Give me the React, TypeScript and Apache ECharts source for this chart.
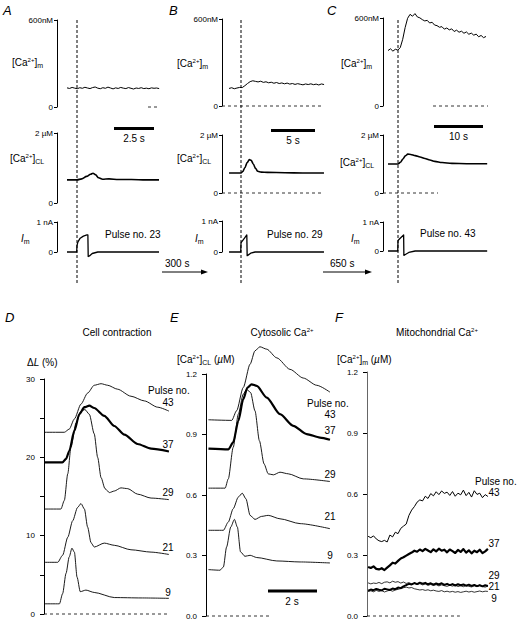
import { useEffect, useRef } from "react";
import * as echarts from "echarts";

const FONT = "'Liberation Sans', Arial, Helvetica, sans-serif";

// ---------------- Top row data (A: pulse 23, B: pulse 29, C: pulse 43) ----------------
const pulseNumbersTop = ["23", "29", "43"];
const mitoTickLabel = "600nM";
const cytoTickLabel = "2 µM";
const currentTickLabel = "1 nA";
const scaleBarSecondsTop = [2.5, 5, 10];
const scaleBarLabelsTop = ["2.5 s", "5 s", "10 s"];
const intervalLabels = ["300 s", "650 s"];

// A — mitochondrial Ca (nM), sampled every 0.16 s from -0.625 s
const aMitoStart = -0.625;
const aMitoStep = 0.16;
const aMito = [132, 128, 135, 130, 126, 133, 129, 136, 131, 127, 134, 138, 130, 126, 133, 129, 137, 131, 125, 132, 128, 135, 130, 127, 134, 129, 124, 131, 128, 133, 127, 130, 126, 132, 129, 131, 127];
// A — cytosolic Ca (µM)
const aCytoT = [-0.625, 0, 0.3, 0.6, 0.85, 1.0, 1.15, 1.35, 1.6, 2.0, 2.6, 3.4, 4.3, 5.125];
const aCytoV = [0.66, 0.66, 0.69, 0.76, 0.82, 0.85, 0.81, 0.72, 0.68, 0.69, 0.67, 0.67, 0.66, 0.66];
// A — membrane current (nA)
const aCurT = [-0.625, -0.02, 0, 0.06, 0.2, 0.4, 0.62, 0.68, 0.7, 0.78, 0.95, 1.3, 5.125];
const aCurV = [0, 0, 0.22, 0.34, 0.46, 0.53, 0.57, 0.57, -0.15, -0.13, -0.05, 0, 0];

// B
const bMitoStart = -1.36;
const bMitoStep = 0.3;
const bMito = [121, 126, 119, 124, 128, 127, 140, 155, 168, 174, 170, 166, 171, 163, 167, 160, 164, 157, 162, 155, 159, 153, 158, 151, 155, 149, 154, 150, 146, 152, 148, 153, 147, 151, 145, 152, 148];
const bCytoT = [-1.36, 0, 0.2, 0.45, 0.7, 0.95, 1.15, 1.4, 1.65, 1.9, 2.3, 3.0, 5.0, 7.0, 9.43];
const bCytoV = [0.69, 0.69, 0.74, 0.88, 1.05, 1.15, 1.13, 1.0, 0.85, 0.75, 0.72, 0.71, 0.7, 0.69, 0.69];
const bCurT = [-1.36, -0.03, 0, 0.05, 0.4, 0.66, 0.7, 0.8, 1.1, 1.6, 9.43];
const bCurV = [0, 0, 0.28, 0.32, 0.45, 0.55, -0.12, -0.1, -0.04, 0, 0];

// C
const cMitoStart = -2.04;
const cMitoStep = 0.5;
const cMito = [378, 390, 374, 387, 381, 398, 455, 535, 598, 625, 612, 630, 607, 601, 589, 580, 584, 566, 571, 552, 548, 537, 541, 524, 532, 519, 526, 508, 517, 503, 510, 496, 505, 489, 497, 483, 490, 472, 481, 466, 474];
const cCytoT = [-2.04, 0, 0.5, 1.0, 1.5, 2.0, 2.6, 3.5, 4.5, 5.5, 6.5, 7.5, 9, 11, 14, 18.2];
const cCytoV = [1.0, 1.0, 1.06, 1.17, 1.28, 1.34, 1.33, 1.29, 1.24, 1.19, 1.14, 1.09, 1.05, 1.02, 1.01, 1.01];
const cCurT = [-2.04, -0.05, 0, 0.1, 0.5, 1.15, 1.2, 1.5, 2.2, 3.5, 18.2];
const cCurV = [0, 0, 0.35, 0.38, 0.45, 0.55, -0.15, -0.12, -0.05, 0, 0];

// ---------------- Bottom row data ----------------
const pulseLabels = ["43", "37", "29", "21", "9"];
const panelTitles = ["Cell contraction", "Cytosolic Ca{sup|2+}", "Mitochondrial Ca{sup|2+}"];
const panelYTitles = ["Δ{i|L} (%)", "[Ca{sup|2+}]{sub|CL} ({i|µ}M)", "[Ca{sup|2+}]{sub|m} ({i|µ}M)"];

// D — cell shortening ΔL (%) vs time (s)
const d43T = [0, 0.83, 1.03, 1.24, 1.51, 1.78, 2.05, 2.33, 2.6, 3.0, 3.55, 4.1, 4.64, 5.1];
const d43V = [23.2, 23.2, 23.6, 24.9, 26.8, 28.2, 29.2, 29.4, 29.2, 28.7, 27.8, 27.2, 26.4, 25.9];
const d37T = [0, 0.75, 0.9, 1.03, 1.24, 1.44, 1.65, 1.85, 2.05, 2.46, 2.87, 3.28, 3.82, 4.37, 5.1];
const d37V = [19.35, 19.35, 19.8, 20.8, 23.4, 25.5, 26.4, 26.6, 26.3, 25.3, 24.0, 22.9, 21.7, 21.1, 20.75];
const d29T = [0, 0.69, 0.83, 0.97, 1.1, 1.31, 1.51, 1.67, 1.85, 2.05, 2.19, 2.33, 2.49, 2.67, 2.87, 3.14, 3.42, 3.82, 4.37, 5.1];
const d29V = [13.4, 13.4, 14.5, 17.9, 21.3, 24.4, 25.9, 26.1, 25.5, 23.0, 20.0, 17.4, 16.0, 15.5, 15.7, 16.1, 16.0, 15.3, 14.8, 14.6];
const d21T = [0, 0.56, 0.76, 0.97, 1.17, 1.37, 1.51, 1.65, 1.78, 1.92, 2.05, 2.46, 2.87, 3.55, 4.37, 5.1];
const d21V = [6.6, 6.6, 7.5, 9.8, 11.9, 13.6, 14.1, 13.4, 11.1, 9.1, 8.55, 9.05, 8.77, 8.2, 7.9, 7.6];
const d9T = [0, 0.63, 0.76, 0.9, 1.03, 1.14, 1.24, 1.35, 1.48, 1.71, 2.05, 2.87, 3.96, 5.1];
const d9V = [1.3, 1.3, 2.6, 5.2, 7.3, 8.4, 7.9, 4.7, 2.85, 3.05, 2.75, 2.1, 2.05, 2.0];

// E — cytosolic Ca (µM) vs time (s)
const e43T = [0.1, 1.05, 1.25, 1.52, 1.8, 2.0, 2.2, 2.48, 2.89, 3.43, 3.97, 4.52, 5.06];
const e43V = [0.973, 0.97, 1.018, 1.133, 1.249, 1.315, 1.335, 1.323, 1.28, 1.223, 1.18, 1.144, 1.11];
const e37T = [0.1, 0.91, 1.11, 1.32, 1.52, 1.69, 1.86, 2.07, 2.48, 3.02, 3.56, 4.11, 4.65, 5.06];
const e37V = [0.83, 0.826, 0.861, 0.968, 1.075, 1.132, 1.149, 1.141, 1.083, 1.001, 0.943, 0.902, 0.885, 0.874];
const e29T = [0.1, 0.78, 0.91, 1.11, 1.32, 1.52, 1.66, 1.82, 2.0, 2.18, 2.37, 2.54, 2.75, 3.02, 3.36, 3.97, 5.06];
const e29V = [0.634, 0.634, 0.68, 0.836, 1.001, 1.1, 1.124, 1.108, 1.017, 0.869, 0.754, 0.705, 0.7, 0.713, 0.705, 0.68, 0.667];
const e21T = [0.1, 0.71, 0.91, 1.11, 1.32, 1.48, 1.63, 1.8, 2.0, 2.27, 2.54, 3.02, 3.84, 5.06];
const e21V = [0.425, 0.425, 0.466, 0.532, 0.59, 0.609, 0.581, 0.499, 0.479, 0.494, 0.499, 0.482, 0.458, 0.433];
const e9T = [0.1, 0.57, 0.71, 0.84, 1.01, 1.16, 1.28, 1.41, 1.59, 1.8, 2.07, 2.89, 3.84, 5.06];
const e9V = [0.23, 0.227, 0.243, 0.342, 0.441, 0.479, 0.441, 0.318, 0.296, 0.301, 0.29, 0.273, 0.268, 0.263];

// F — mitochondrial Ca (µM), consecutive samples
const f43 = [0.392, 0.385, 0.394, 0.379, 0.37, 0.366, 0.372, 0.364, 0.398, 0.389, 0.412, 0.405, 0.431, 0.442, 0.452, 0.495, 0.521, 0.538, 0.56, 0.571, 0.566, 0.589, 0.578, 0.602, 0.591, 0.611, 0.597, 0.615, 0.603, 0.609, 0.593, 0.612, 0.589, 0.604, 0.596, 0.619, 0.592, 0.608, 0.585, 0.616, 0.598, 0.604, 0.582, 0.597, 0.588];
const f37 = [0.241, 0.236, 0.244, 0.232, 0.229, 0.235, 0.226, 0.238, 0.249, 0.262, 0.258, 0.271, 0.283, 0.289, 0.297, 0.305, 0.312, 0.321, 0.316, 0.327, 0.319, 0.33, 0.322, 0.314, 0.328, 0.318, 0.331, 0.321, 0.326, 0.313, 0.327, 0.319, 0.31, 0.325, 0.315, 0.329, 0.312, 0.323, 0.308, 0.321, 0.314, 0.326, 0.309, 0.318, 0.33];
const f29 = [0.163, 0.158, 0.162, 0.16, 0.165, 0.159, 0.166, 0.168, 0.163, 0.171, 0.166, 0.169, 0.162, 0.167, 0.16, 0.164, 0.158, 0.161, 0.155, 0.159, 0.153, 0.157, 0.151, 0.155, 0.15, 0.154, 0.148, 0.153, 0.149, 0.146, 0.151, 0.147, 0.152, 0.145, 0.149, 0.144, 0.15, 0.146, 0.143, 0.148, 0.144, 0.149, 0.145, 0.142, 0.147];
const f21 = [0.125, 0.13, 0.127, 0.133, 0.129, 0.126, 0.134, 0.131, 0.128, 0.135, 0.132, 0.14, 0.137, 0.146, 0.152, 0.158, 0.155, 0.162, 0.157, 0.164, 0.159, 0.163, 0.156, 0.161, 0.154, 0.16, 0.155, 0.161, 0.153, 0.158, 0.152, 0.157, 0.15, 0.156, 0.151, 0.155, 0.149, 0.154, 0.148, 0.153, 0.147, 0.152, 0.146, 0.151, 0.148];
const f9 = [0.12, 0.124, 0.119, 0.126, 0.121, 0.125, 0.118, 0.123, 0.127, 0.122, 0.128, 0.131, 0.135, 0.139, 0.142, 0.138, 0.14, 0.134, 0.131, 0.128, 0.13, 0.126, 0.129, 0.124, 0.127, 0.123, 0.121, 0.125, 0.119, 0.122, 0.118, 0.121, 0.117, 0.12, 0.116, 0.119, 0.122, 0.118, 0.121, 0.117, 0.12, 0.123, 0.119, 0.122, 0.121];

// ---------------- helpers ----------------
const pairs = (t: number[], v: number[]) => t.map((x, i) => [x, v[i]]);
const sampled = (start: number, step: number, v: number[]) => v.map((y, i) => [start + i * step, y]);
const indexed = (v: number[]) => v.map((y, i) => [i, y]);

const makeRich = () => ({
  sup: { fontSize: 6, verticalAlign: "top", padding: [2, 0, 0, 0], fontFamily: FONT, fill: "#000" },
  sub: { fontSize: 7, verticalAlign: "bottom", fontFamily: FONT, fill: "#000" },
  i: { fontSize: 10, fontStyle: "italic", fontFamily: FONT, fill: "#000", lineHeight: 14 },
});

function txt(x: number, y: number, text: string, o: any = {}) {
  return {
    type: "text",
    x,
    y,
    silent: true,
    z: 20,
    style: {
      text,
      fill: "#000",
      fontSize: o.size ?? 10,
      fontFamily: FONT,
      fontStyle: o.italic ? "italic" : "normal",
      align: o.align ?? "left",
      verticalAlign: "middle",
      lineHeight: 14,
      rich: makeRich(),
    },
  };
}

function line(g: number, data: number[][], width: number, o: any = {}) {
  return {
    type: "line",
    xAxisIndex: g,
    yAxisIndex: g,
    data,
    symbol: "none",
    showSymbol: false,
    clip: false,
    silent: true,
    animation: false,
    smooth: o.smooth ?? false,
    smoothMonotone: o.smooth ? "x" : undefined,
    lineStyle: { color: o.color ?? "#000", width, type: o.dash ?? "solid", cap: "butt", join: "round" },
    z: o.z ?? 3,
  };
}

function yCfg(max: number, interval: number, formatter: (v: number) => string, o: any = {}) {
  return {
    type: "value",
    min: 0,
    max,
    interval,
    axisLine: { show: true, onZero: false, lineStyle: { color: o.axisColor ?? "#000", width: o.axisWidth ?? 1 } },
    axisTick: { show: true, inside: false, length: o.tick ?? 3, lineStyle: { color: "#000", width: 1 } },
    splitLine: { show: false },
    axisLabel: {
      show: true,
      color: "#000",
      fontSize: o.size ?? 7.5,
      fontFamily: FONT,
      margin: o.margin ?? 4,
      formatter,
      showMinLabel: true,
      showMaxLabel: true,
    },
  };
}

// layout (pixels) of the three top panels
const topPanels = [
  { axisX: 57, stimX: 77, pxPerS: 16, rightX: 162, rows: [[20, 107], [133, 203], [222, 252]], zeroDash: [[148, 159], null, null], bar: [114, 127], pulse: [105, 234] },
  { axisX: 222, stimX: 241, pxPerS: 8.8, rightX: 326, rows: [[19, 106], [135, 193], [221, 252]], zeroDash: [[222, 324], [222, 324], null], bar: [271, 129], pulse: [267, 234] },
  { axisX: 383, stimX: 398, pxPerS: 4.9, rightX: 490, rows: [[18, 106], [135, 193], [222, 251]], zeroDash: [[433, 488], [383, 438], null], bar: [434, 125], pulse: [420, 233] },
];
const topTraces = [
  { mito: sampled(aMitoStart, aMitoStep, aMito), cyto: pairs(aCytoT, aCytoV), cur: pairs(aCurT, aCurV) },
  { mito: sampled(bMitoStart, bMitoStep, bMito), cyto: pairs(bCytoT, bCytoV), cur: pairs(bCurT, bCurV) },
  { mito: sampled(cMitoStart, cMitoStep, cMito), cyto: pairs(cCytoT, cCytoV), cur: pairs(cCurT, cCurV) },
];

function buildOption() {
  const grid: any[] = [];
  const xAxis: any[] = [];
  const yAxis: any[] = [];
  const series: any[] = [];
  const el: any[] = [];

  const addGrid = (left: number, top: number, bottom: number, width: number, xmin: number, xmax: number, y: any) => {
    const i = grid.length;
    grid.push({ left, top, width, height: bottom - top, outerBoundsMode: "none", containLabel: false });
    xAxis.push({ gridIndex: i, type: "value", min: xmin, max: xmax, show: false });
    yAxis.push({ gridIndex: i, ...y });
    return i;
  };

  // ---------- top panels ----------
  topPanels.forEach((p, pi) => {
    const toT = (px: number) => (px - p.stimX) / p.pxPerS;
    const xmin = toT(p.axisX);
    const xmax = toT(p.rightX);
    const tr = topTraces[pi];
    const rowData = [tr.mito, tr.cyto, tr.cur];
    const rowMax = [600, 2, 1];
    const rowLab = [mitoTickLabel, cytoTickLabel, currentTickLabel];
    const rowW = [1, 1.6, 1.3];
    p.rows.forEach((r, ri) => {
      const g = addGrid(p.axisX, r[0], r[1], p.rightX - p.axisX, xmin, xmax,
        yCfg(rowMax[ri], rowMax[ri], (v: number) => (v === 0 ? "0" : rowLab[ri]), { size: 8, margin: 4 }));
      series.push(line(g, rowData[ri], rowW[ri], { smooth: ri === 1 ? 0.3 : false }));
      const zd = p.zeroDash[ri];
      if (zd) series.push(line(g, [[toT(zd[0]), 0], [toT(zd[1]), 0]], 0.8, { dash: [3, 3], z: 2 }));
    });
    // stimulus marker
    el.push({ type: "line", silent: true, z: 5, shape: { x1: p.stimX, y1: 20, x2: p.stimX, y2: 285 }, style: { stroke: "#000", lineWidth: 1, lineDash: [3, 2] } });
    // time scale bar
    const w = scaleBarSecondsTop[pi] * p.pxPerS;
    el.push({ type: "rect", silent: true, shape: { x: p.bar[0], y: p.bar[1], width: w, height: 3 }, style: { fill: "#000" } });
    el.push(txt(p.bar[0] + w / 2, p.bar[1] + 11, scaleBarLabelsTop[pi], { align: "center" }));
    el.push(txt(p.pulse[0], p.pulse[1], "Pulse no. " + pulseNumbersTop[pi]));
  });

  // top labels
  const topLabelPos = [
    [12, 62, 10, 158, 21, 238],
    [177, 63, 177, 158, 195, 238],
    [341, 63, 340, 162, 351, 238],
  ];
  topLabelPos.forEach((q) => {
    el.push(txt(q[0], q[1], "[Ca{sup|2+}]{sub|m}"));
    el.push(txt(q[2], q[3], "[Ca{sup|2+}]{sub|CL}"));
    el.push(txt(q[4], q[5], "{i|I}{sub|m}"));
  });
  // interval arrows
  [[162, 208, 165], [323, 372, 330]].forEach((a, i) => {
    el.push({ type: "line", silent: true, shape: { x1: a[0], y1: 272, x2: a[1] - 4, y2: 272 }, style: { stroke: "#000", lineWidth: 1 } });
    el.push({ type: "polygon", silent: true, shape: { points: [[a[1], 272], [a[1] - 7, 269.5], [a[1] - 7, 274.5]] }, style: { fill: "#000" } });
    el.push(txt(a[2], 263, intervalLabels[i]));
  });

  // ---------- bottom panels ----------
  const dG = addGrid(44, 379, 614, 125, 0, 125 / 24.5,
    yCfg(30, 5, (v: number) => (v % 10 === 0 ? String(v) : ""), { size: 8, margin: 9, tick: 4 }));
  const eG = addGrid(206, 374, 616, 125, 0, 125 / 24.5,
    yCfg(1.2, 0.3, (v: number) => v.toFixed(1), { size: 8, margin: 9, tick: 4 }));
  const fG = addGrid(367, 372, 616, 122, -0.4, 44.4,
    yCfg(1.2, 0.3, (v: number) => v.toFixed(1), { size: 8, margin: 9, tick: 4, axisColor: "#666" }));

  const dSets = [pairs(d43T, d43V), pairs(d37T, d37V), pairs(d29T, d29V), pairs(d21T, d21V), pairs(d9T, d9V)];
  const eSets = [pairs(e43T, e43V), pairs(e37T, e37V), pairs(e29T, e29V), pairs(e21T, e21V), pairs(e9T, e9V)];
  const fSets = [indexed(f43), indexed(f37), indexed(f29), indexed(f21), indexed(f9)];
  const dW = [0.9, 2.2, 0.9, 0.9, 0.9];
  const fW = [1, 2.2, 0.8, 2, 0.8];
  dSets.forEach((d, i) => series.push(line(dG, d, dW[i], { smooth: 0.25 })));
  eSets.forEach((d, i) => series.push(line(eG, d, dW[i], { smooth: 0.25 })));
  fSets.forEach((d, i) => series.push(line(fG, d, fW[i])));
  series.push(line(dG, [[0, 0], [125 / 24.5, 0]], 0.8, { dash: [3, 3], z: 2 }));
  series.push(line(eG, [[0, 0], [66 / 24.5, 0]], 0.8, { dash: [3, 3], z: 2 }));
  series.push(line(fG, [[-0.4, 0], [33.7, 0]], 0.8, { dash: [3, 3], z: 2 }));

  // E scale bar (2 s)
  el.push({ type: "rect", silent: true, shape: { x: 268, y: 589.5, width: 2 * 24.5, height: 3 }, style: { fill: "#000" } });
  el.push(txt(292, 601, "2 s", { align: "center" }));

  // letters
  [["A", 3, 10], ["B", 169, 10], ["C", 327, 10], ["D", 5, 317], ["E", 170, 317], ["F", 335, 317]].forEach((l: any) =>
    el.push(txt(l[1], l[2], l[0], { size: 13, italic: true })));
  // titles
  [[117, 332], [282, 332], [437, 332]].forEach((c, i) => el.push(txt(c[0], c[1], panelTitles[i], { align: "center" })));
  [[27, 362], [177, 359], [337, 359]].forEach((c, i) => el.push(txt(c[0], c[1], panelYTitles[i])));

  // pulse labels bottom
  el.push(txt(148, 390, "Pulse no."));
  el.push(txt(307, 403, "Pulse no."));
  el.push(txt(475, 481, "Pulse no."));
  const dY = [402, 444, 492, 547, 592];
  const eY = [414, 430, 474, 516, 555];
  const fY = [492, 543, 575, 586, 598];
  pulseLabels.forEach((p, i) => {
    el.push(txt(168, dY[i], p, { align: "center" }));
    el.push(txt(330, eY[i], p, { align: "center" }));
    el.push(txt(494, fY[i], p, { align: "center" }));
  });

  return {
    animation: false,
    backgroundColor: "#fff",
    grid,
    xAxis,
    yAxis,
    series,
    graphic: { elements: el },
  };
}

export default function App() {
  const ref = useRef<HTMLDivElement>(null);
  useEffect(() => {
    if (!ref.current) return;
    const chart = echarts.init(ref.current, null, { renderer: "svg", width: 520, height: 624 });
    chart.setOption(buildOption() as any);
    return () => chart.dispose();
  }, []);
  return (
    <div
      ref={ref}
      style={{ position: "absolute", left: 0, top: 0, width: 520, height: 624, background: "#fff" }}
    />
  );
}
